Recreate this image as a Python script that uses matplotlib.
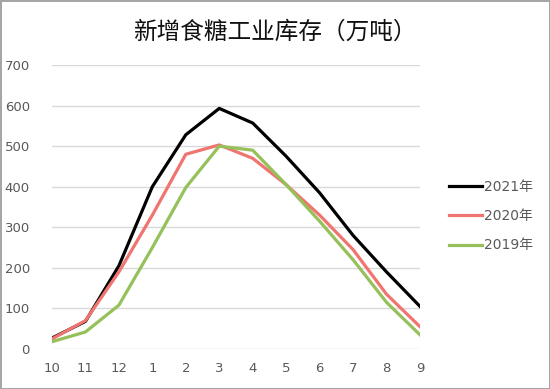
import matplotlib.pyplot as plt
import numpy as np

plt.rcParams['font.family'] = ['DejaVu Sans', 'Noto Sans CJK SC']

# Data
months = ['10', '11', '12', '1', '2', '3', '4', '5', '6', '7', '8', '9']
y2021 = [27, 68, 205, 400, 528, 593, 557, 475, 385, 280, 190, 105]
y2020 = [25, 70, 190, 330, 480, 503, 470, 405, 330, 245, 135, 55]
y2019 = [18, 42, 108, 250, 398, 500, 490, 405, 315, 220, 115, 35]

fig = plt.figure(figsize=(5.5, 3.89), dpi=100, edgecolor='#a6a6a6', linewidth=2)
ax = fig.add_axes([0.0945, 0.1028, 0.6691, 0.7301])

x = np.arange(len(months))
ax.plot(x, y2021, color='black', lw=2.3, label='2021年', zorder=3)
ax.plot(x, y2020, color='#f07470', lw=2.3, label='2020年', zorder=4)
ax.plot(x, y2019, color='#95c05a', lw=2.3, label='2019年', zorder=5)

ax.set_xlim(0, len(months) - 1)
ax.set_ylim(0, 700)
ax.set_yticks(range(0, 701, 100))
ax.set_xticks(x)
ax.set_xticklabels(months)
ax.grid(axis='y', color='#d9d9d9', lw=1)
ax.set_axisbelow(True)
for s in ax.spines.values():
    s.set_visible(False)
ax.tick_params(length=0, colors='#595959', labelsize=9.5)
ax.tick_params(axis='y', pad=16)
ax.tick_params(axis='x', pad=9)

fig.text(0.5, 0.918, '新增食糖工业库存（万吨）', ha='center', va='center',
         fontsize=17, family=['Noto Sans CJK SC'], color='#111111')

leg = ax.legend(loc='center left', bbox_to_anchor=(1.045, 0.468), frameon=False,
                handlelength=2.4, handletextpad=0.1, labelspacing=1.1, fontsize=10)
for t in leg.get_texts():
    t.set_color('#595959')

fig.savefig('out.png', dpi=100)
